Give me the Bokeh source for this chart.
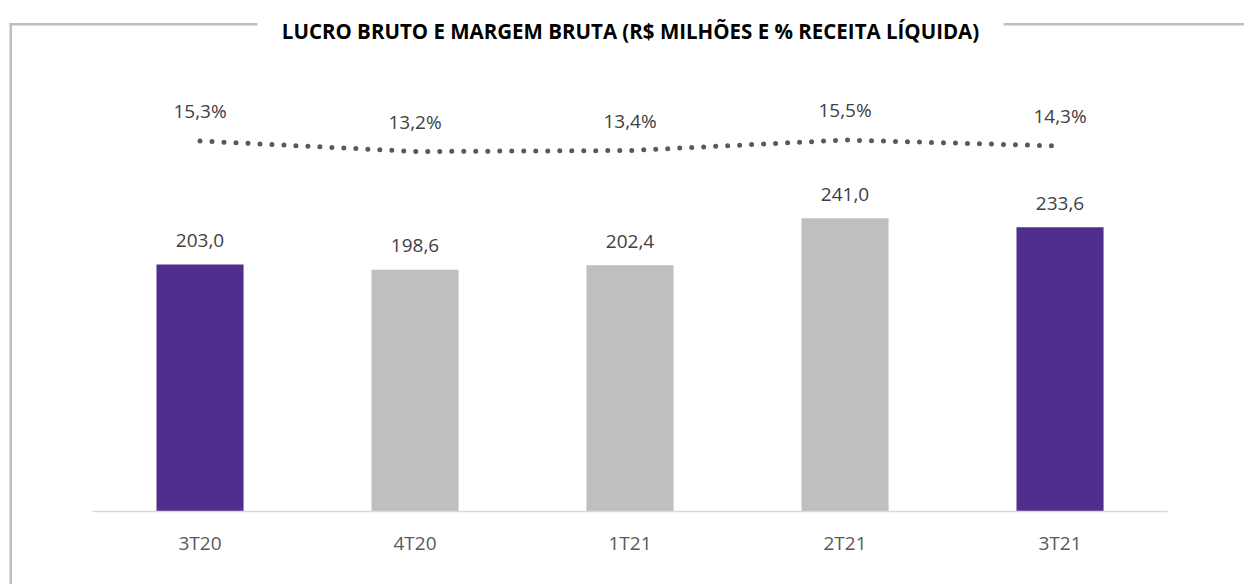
from bokeh.plotting import figure
from bokeh.models import (ColumnDataSource, Range1d, Label, BoxAnnotation, LinearAxis,
                          FixedTicker)
from bokeh.core.properties import value
from bokeh.embed import file_html
from bokeh.resources import INLINE

categories = ["3T20", "4T20", "1T21", "2T21", "3T21"]
lucro_bruto = [203.0, 198.6, 202.4, 241.0, 233.6]
margem_bruta = [15.3, 13.2, 13.4, 15.5, 14.3]
lucro_labels = ["203,0", "198,6", "202,4", "241,0", "233,6"]
margem_labels = ["15,3%", "13,2%", "13,4%", "15,5%", "14,3%"]
bar_colors = ["#512D8E", "#BFBFBF", "#BFBFBF", "#BFBFBF", "#512D8E"]
title_text = "LUCRO BRUTO E MARGEM BRUTA (R$ MILHÕES E % RECEITA LÍQUIDA)"

FONT = "Open Sans"
W, H = 1244, 584

pos = list(range(len(categories)))
src = ColumnDataSource(dict(x=pos, val=lucro_bruto, pct=margem_bruta,
                            vlab=lucro_labels, plab=margem_labels, color=bar_colors))

p = figure(width=W, height=H, x_range=Range1d(-0.928, 4.858), y_range=Range1d(-60.0, 420.0),
           output_backend="svg", toolbar_location=None, x_axis_location=None,
           y_axis_location=None,
           min_border_left=0, min_border_right=0, min_border_top=0, min_border_bottom=0)
p.extra_y_ranges = {"pct": Range1d(-73.4, 43.4)}
p.outline_line_color = None
p.background_fill_color = "white"
p.border_fill_color = "white"
p.xgrid.visible = False
p.ygrid.visible = False

p.vbar(x="x", top="val", width=0.405, color="color", line_color=None, source=src)
p.text(x="x", y="val", text="vlab", y_offset=-24, text_align="center", text_baseline="middle",
       text_font=value(FONT), text_font_size="19px", text_color="#404040", source=src)

p.line(x="x", y="pct", y_range_name="pct", line_color="#595959", line_width=5,
       line_dash="0 12", line_cap="round", source=src)
p.text(x="x", y="pct", text="plab", y_range_name="pct", y_offset=-30, text_align="center",
       text_baseline="middle", text_font=value(FONT), text_font_size="19px",
       text_color="#404040", source=src)

ax = LinearAxis(fixed_location=0, ticker=FixedTicker(ticks=pos),
                major_label_overrides={i: c for i, c in zip(pos, categories)},
                bounds=(pos[0] - 0.5, pos[-1] + 0.5))
ax.axis_line_color = "#D9D9D9"
ax.axis_line_width = 1.5
ax.major_tick_line_color = None
ax.minor_tick_line_color = None
ax.major_tick_out = 0
ax.major_tick_in = 0
ax.major_label_standoff = 18
ax.major_label_text_font = FONT
ax.major_label_text_font_size = "19px"
ax.major_label_text_color = "#595959"
p.add_layout(ax, "below")

# outer frame lines (canvas units)
for l, r, t, b in [(9, 257, 22.5, 25), (1003, W, 22.5, 25), (9, 11.5, 22.5, H)]:
    p.add_layout(BoxAnnotation(left=l, right=r, top=t, bottom=b,
                               left_units="canvas", right_units="canvas",
                               top_units="canvas", bottom_units="canvas",
                               fill_color="#BFBFBF", fill_alpha=1, line_color=None,
                               level="overlay"))

p.add_layout(Label(x=630, y=30, x_units="canvas", y_units="canvas", text=title_text,
                   text_align="center", text_baseline="middle", text_font=FONT,
                   text_font_style="bold", text_font_size="20.5px", text_color="#000000"))

open("out.html", "w").write(file_html(p, INLINE))
